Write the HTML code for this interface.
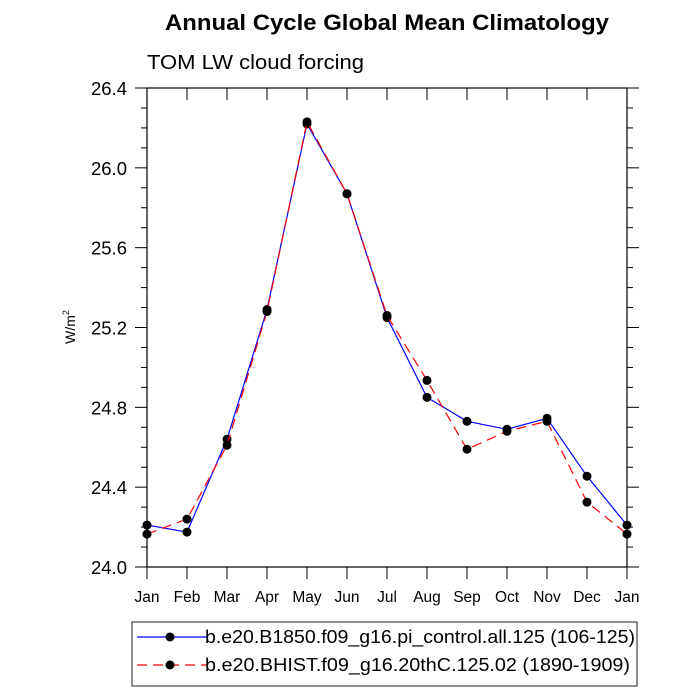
<!DOCTYPE html>
<html><head><meta charset="utf-8"><style>body{margin:0;background:#fff}svg{display:block;font-family:"Liberation Sans",sans-serif}</style></head>
<body>
<svg width="700" height="700" viewBox="0 0 700 700">
<text x="165" y="30" textLength="444" lengthAdjust="spacingAndGlyphs" font-size="22" font-weight="bold">Annual Cycle Global Mean Climatology</text>
<text x="147" y="69" textLength="217" lengthAdjust="spacingAndGlyphs" font-size="20">TOM LW cloud forcing</text>
<text transform="translate(75,327) rotate(-90)" text-anchor="middle" font-size="14">W/m<tspan dy="-6" font-size="9">2</tspan></text>
<g id="axes"></g>
<g id="series"></g>
<rect x="132" y="622" width="505" height="64" fill="none" stroke="#444" stroke-width="1.2"/>
<g>
<line x1="137" y1="637" x2="207" y2="637" stroke="#00f" stroke-width="1.2"/><circle cx="170" cy="637" r="4.5"/>
<text x="205" y="643" textLength="430" lengthAdjust="spacingAndGlyphs" font-size="18">b.e20.B1850.f09_g16.pi_control.all.125 (106-125)</text></g>
<g>
<line x1="137" y1="665" x2="207" y2="665" stroke="#f00" stroke-width="1.2" stroke-dasharray="10,6"/><circle cx="170" cy="665" r="4.5"/>
<text x="205" y="671" textLength="425" lengthAdjust="spacingAndGlyphs" font-size="18">b.e20.BHIST.f09_g16.20thC.125.02 (1890-1909)</text></g>
</svg>
<script>
const months=["Jan","Feb","Mar","Apr","May","Jun","Jul","Aug","Sep","Oct","Nov","Dec","Jan"];
const yTicks=[24.0,24.4,24.8,25.2,25.6,26.0,26.4];
const controlValues=[24.21,24.175,24.64,25.29,26.22,25.87,25.25,24.85,24.73,24.69,24.745,24.455,24.21];
const histValues=[24.165,24.24,24.61,25.28,26.23,25.87,25.26,24.935,24.59,24.68,24.73,24.325,24.165];
const L=147,R=627,T=88,B=567,ymin=24.0,ymax=26.4;
const xs=i=>L+(R-L)*i/(months.length-1);
const ys=v=>B-(v-ymin)/(ymax-ymin)*(B-T);
const NS="http://www.w3.org/2000/svg";
function mk(t,a,p){const e=document.createElementNS(NS,t);for(const k in a)e.setAttribute(k,a[k]);p.appendChild(e);return e;}
const ax=document.getElementById('axes');
const frame=mk('rect',{x:L,y:T,width:R-L,height:B-T,fill:'none',stroke:'#000','stroke-width':1.2},ax);


months.forEach((m,i)=>{const x=xs(i);
mk('line',{x1:x,y1:B,x2:x,y2:B+12,stroke:'#000'},ax);
mk('line',{x1:x,y1:T,x2:x,y2:T+12,stroke:'#000'},ax);
const t=mk('text',{x:x,y:B+35,'text-anchor':'middle','font-size':15.5},ax);t.textContent=m;

});
for(let v=ymin;v<=ymax+1e-9;v+=0.1){const y=ys(v);const major=Math.abs((v-ymin)/0.4-Math.round((v-ymin)/0.4))<1e-6;
if(major){mk('line',{x1:L-12,y1:y,x2:L,y2:y,stroke:'#000'},ax);mk('line',{x1:R,y1:y,x2:R+12,y2:y,stroke:'#000'},ax);}
else{mk('line',{x1:L,y1:y,x2:L-6,y2:y,stroke:'#000'},ax);mk('line',{x1:R,y1:y,x2:R+6,y2:y,stroke:'#000'},ax);}}
yTicks.forEach(v=>{const t=mk('text',{x:L-20,y:ys(v)+7,'text-anchor':'end','font-size':18.5},ax);t.textContent=v.toFixed(1);

});
const sg=document.getElementById('series');
function draw(vals,color,dash,name){
const pl=mk('polyline',{points:vals.map((v,i)=>xs(i)+','+ys(v)).join(' '),fill:'none',stroke:color,'stroke-width':1.2,'stroke-dasharray':dash},sg);


vals.forEach((v,i)=>{const c=mk('circle',{cx:xs(i),cy:ys(v),r:4.5,fill:'#000'},sg);

});}
draw(controlValues,'#00f','none','control');
draw(histValues,'#f00','10,6','hist');
</script>
</body></html>
